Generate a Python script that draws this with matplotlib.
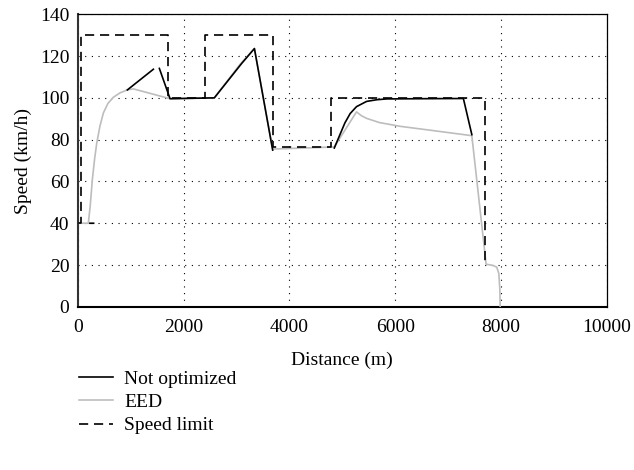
import numpy as np
import matplotlib
matplotlib.use("Agg")
import matplotlib.pyplot as plt

plt.rcParams["font.family"] = ["Liberation Serif", "DejaVu Serif"]

# speed limit profile (m, km/h)
lim_x = [0, 60, 60, 1700, 1700, 2400, 2400, 3690, 3690, 4780, 4780, 7700, 7700]
lim_v = [40, 40, 130, 130, 100, 100, 130, 130, 76.5, 76.5, 100, 100, 20]

# not optimized (black), NaN marks gaps
not_x = [230, 300, np.nan, 938, 1430, np.nan, 1543, 1745, 2582, 3100, 3340, 3685, np.nan,
         4850, 4950, 5050, 5150, 5270, 5460, 5650, 5840, 6500, 7290, 7450]
not_v = [40, 40, np.nan, 103.8, 113.7, np.nan, 114.1, 99.6, 100, 116.5, 123.6, 75, np.nan,
         76, 82, 88, 92.5, 95.8, 98.3, 99.1, 99.5, 99.6, 99.7, 82.4]

# EED (grey)
eed_x = [0, 200, 235, 277, 320, 360, 420, 485, 570, 674, 800, 938, 1051, 1745, 2582, 3067,
         3340, 3685, 4850, 5270, 5360, 5460, 5700, 6090, 6700, 7450, 7720, 7850, 7920, 7960,
         7980, 7985]
eed_v = [40, 40, 48, 61, 71, 78.4, 86.5, 92.8, 97.3, 100.3, 102.4, 103.8, 104.3, 99.6, 100,
         116, 123.6, 75.5, 76.5, 93.3, 91.5, 90.2, 88.2, 86.4, 84.4, 81.9, 20.4, 19.8, 19,
         16, 8, 0]

FS = 14

fig = plt.figure(figsize=(6.34, 4.70), dpi=100)
ax = fig.add_axes([0.1226, 0.3472, 0.8344, 0.6224])

ax.plot(eed_x, eed_v, color="#bdbdbd", lw=1.2, label="EED", zorder=3)
ax.plot(not_x, not_v, color="black", lw=1.2, label="Not optimized", zorder=4)
ax.plot(lim_x, lim_v, color="black", lw=1.2, ls=(0, (5.5, 3.5)), label="Speed limit", zorder=5)

ax.set_xlim(0, 10000)
ax.set_ylim(0, 140)
ax.set_xticks([0, 2000, 4000, 6000, 8000, 10000])
ax.set_yticks([0, 20, 40, 60, 80, 100, 120, 140])
ax.tick_params(axis="x", length=0, labelsize=FS, pad=9)
ax.tick_params(axis="y", length=0, labelsize=FS, pad=6)
ax.grid(True, color="black", ls=(0, (1, 5)), lw=0.8)
for s in ["left", "bottom"]:
    ax.spines[s].set_linewidth(1.5)
ax.spines["left"].set_color("#333333")
for s in ["top", "right"]:
    ax.spines[s].set_linewidth(0.9)
ax.set_xlabel("Distance (m)", fontsize=FS, labelpad=11)
ax.set_ylabel("Speed (km/h)", fontsize=FS, labelpad=6)

h, l = ax.get_legend_handles_labels()
order = [1, 0, 2]
fig.legend([h[i] for i in order], [l[i] for i in order], loc="upper left",
           bbox_to_anchor=(0.124, 0.213), frameon=False, fontsize=FS,
           handlelength=1.75, handletextpad=0.6, labelspacing=0.3,
           borderpad=0, borderaxespad=0)

fig.savefig("out.png", dpi=100)
